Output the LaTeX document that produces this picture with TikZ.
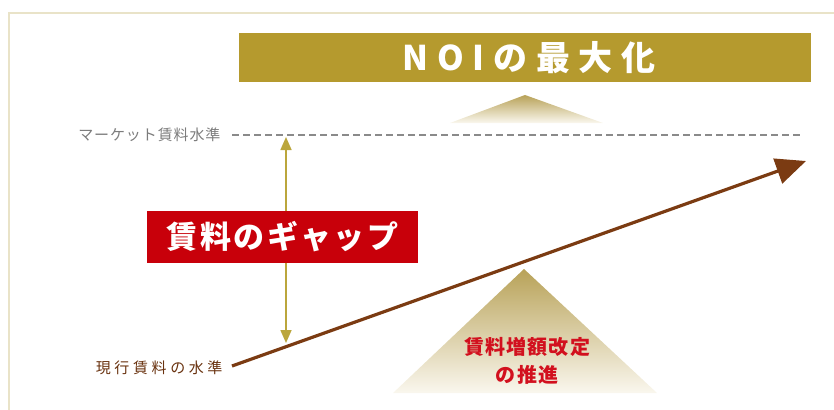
\documentclass[tikz,border=0pt]{standalone}
\usepackage{fontspec}
\usetikzlibrary{arrows.meta,positioning}
\newfontfamily\jp{Noto Sans CJK JP}
\newfontfamily\jpwide[LetterSpace=8]{Noto Sans CJK JP}
\newfontfamily\jpbanner[LetterSpace=26]{Noto Sans CJK JP}
\newfontfamily\jplabel[LetterSpace=6]{Noto Sans CJK JP}
\newfontfamily\jpspread[LetterSpace=24]{Noto Sans CJK JP}
\definecolor{bannergold}{HTML}{B59A2E}
\definecolor{gapred}{HTML}{C8000A}
\definecolor{risebrown}{HTML}{7B3B12}
\definecolor{arrowgold}{HTML}{BBA63C}
\definecolor{framecol}{HTML}{E9E3C8}
\definecolor{pyrtop}{HTML}{B8A258}
\definecolor{pyrbot}{HTML}{FAF7EE}
\definecolor{dashgray}{HTML}{8A8A8A}
\definecolor{textred}{HTML}{D2101E}

\tikzstyle{banner}=[
    fill=bannergold,
    text=white,
    minimum width=572pt,
    minimum height=49pt,
    font=\jpbanner\bfseries\fontsize{34}{34}\selectfont,
  ]
\tikzstyle{gapbox}=[
    fill=gapred,
    text=white,
    minimum width=271pt,
    minimum height=52pt,
    font=\jpwide\bfseries\fontsize{31}{31}\selectfont,
  ]
\tikzstyle{level}=[
    anchor=east,
  ]
\tikzstyle{rise}=[
    -{Triangle[width=26pt,length=30pt]},
    line width=3.2pt,
    risebrown,
  ]
\tikzstyle{gap}=[
    {Triangle[width=11pt,length=13pt]}-{Triangle[width=11pt,length=13pt]},
    line width=1.6pt,
    arrowgold,
  ]

\begin{document}
\begin{tikzpicture}[x=1pt,y=-1pt]
      \useasboundingbox (0,0) rectangle (834,409);
      \draw[framecol, line width=2pt] (9,420) -- (9,13) -- (845,13);
      % pyramids
      \shade[top color=pyrtop, bottom color=pyrbot] (450,123) -- (525,95) -- (603,123) -- cycle;
      \shade[top color=pyrtop, bottom color=pyrbot] (393,393) -- (524,269) -- (657,393) -- cycle;
      \node[banner] (noi) at (525,57.5) {\hspace*{8pt}NOIの最大化};
      \node[level, text=dashgray!90!black, font=\jplabel\fontsize{15}{15}\selectfont] (market) at (224,135) {マーケット賃料水準};
      \node[level, text=risebrown!85!black, font=\jpspread\fontsize{15}{15}\selectfont] (current) at (226,368) {現行賃料の水準};
      \coordinate (mktend) at (803,135);
      \coordinate (gaptop) at (286,137);
      \coordinate (gapbot) at (286,343);
      \coordinate (risetip) at (806,161);
      \draw[dashgray, line width=2pt, dash pattern=on 7pt off 4pt] (market.east) ++(8,0) -- (mktend);
      \draw[gap] (gaptop) -- (gapbot);
      \draw[rise] (current.east) ++(6,-2) -- (risetip);
      \node[gapbox] (gaptext) at (282.5,237) {賃料のギャップ};
      \node[align=center, text=textred, font=\jplabel\bfseries\fontsize{20}{28}\selectfont] (raise) at (527,361) {賃料増額改定\\の推進};
    \end{tikzpicture}
\end{document}
